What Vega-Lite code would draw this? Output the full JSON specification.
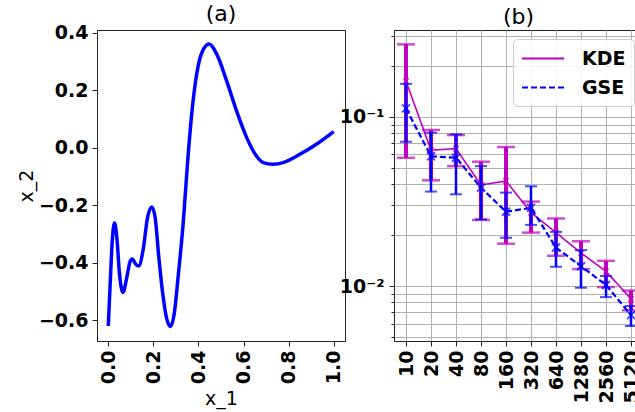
{
  "$schema": "https://vega.github.io/schema/vega-lite/v6.json",
  "padding": {"left": 16, "top": 2, "right": -8, "bottom": 0},
  "spacing": 49,
  "bounds": "flush",
  "config": {
    "font": "DejaVu Sans",
    "view": {"stroke": "#222222", "strokeWidth": 1},
    "axis": {
      "labelFont": "DejaVu Sans", "labelFontWeight": "bold", "labelFontSize": 19, "labelColor": "#000000",
      "titleFont": "DejaVu Sans", "titleFontWeight": "normal", "titleFontSize": 19, "titleColor": "#000000",
      "domainColor": "#222222", "tickColor": "#222222", "tickSize": 5, "labelPadding": 4
    },
    "title": {"font": "DejaVu Sans", "fontSize": 22, "fontWeight": "normal", "color": "#000000", "offset": -2}
  },
  "resolve": {
    "scale": {"color": "independent", "strokeDash": "independent"},
    "legend": {"color": "independent", "strokeDash": "independent"}
  },
  "datasets": {
    "curve": [
      {"x1": 0.000, "x2": -0.620}, {"x1": 0.009, "x2": -0.464}, {"x1": 0.018, "x2": -0.320},
      {"x1": 0.028, "x2": -0.262}, {"x1": 0.038, "x2": -0.313}, {"x1": 0.050, "x2": -0.440},
      {"x1": 0.065, "x2": -0.503}, {"x1": 0.082, "x2": -0.452}, {"x1": 0.095, "x2": -0.400},
      {"x1": 0.106, "x2": -0.387}, {"x1": 0.122, "x2": -0.405}, {"x1": 0.135, "x2": -0.411},
      {"x1": 0.156, "x2": -0.348}, {"x1": 0.174, "x2": -0.243}, {"x1": 0.193, "x2": -0.206},
      {"x1": 0.208, "x2": -0.243}, {"x1": 0.223, "x2": -0.371}, {"x1": 0.242, "x2": -0.510},
      {"x1": 0.260, "x2": -0.597}, {"x1": 0.276, "x2": -0.622}, {"x1": 0.292, "x2": -0.580},
      {"x1": 0.311, "x2": -0.440}, {"x1": 0.333, "x2": -0.255}, {"x1": 0.350, "x2": -0.070},
      {"x1": 0.370, "x2": 0.116}, {"x1": 0.392, "x2": 0.255}, {"x1": 0.415, "x2": 0.330},
      {"x1": 0.447, "x2": 0.360}, {"x1": 0.481, "x2": 0.325}, {"x1": 0.525, "x2": 0.232},
      {"x1": 0.569, "x2": 0.128}, {"x1": 0.614, "x2": 0.035}, {"x1": 0.658, "x2": -0.030},
      {"x1": 0.687, "x2": -0.052}, {"x1": 0.731, "x2": -0.058}, {"x1": 0.776, "x2": -0.052},
      {"x1": 0.850, "x2": -0.023}, {"x1": 0.923, "x2": 0.012}, {"x1": 1.000, "x2": 0.056}
    ],
    "err": [
      {"n": 10, "method": "KDE", "mean": 0.163, "lo": 0.0574, "hi": 0.269},
      {"n": 20, "method": "KDE", "mean": 0.0636, "lo": 0.0422, "hi": 0.0838},
      {"n": 40, "method": "KDE", "mean": 0.065, "lo": 0.0512, "hi": 0.0782},
      {"n": 80, "method": "KDE", "mean": 0.0396, "lo": 0.0246, "hi": 0.0544},
      {"n": 160, "method": "KDE", "mean": 0.0418, "lo": 0.0178, "hi": 0.0664},
      {"n": 320, "method": "KDE", "mean": 0.0272, "lo": 0.0207, "hi": 0.0316},
      {"n": 640, "method": "KDE", "mean": 0.0207, "lo": 0.0151, "hi": 0.0251},
      {"n": 1280, "method": "KDE", "mean": 0.0157, "lo": 0.0126, "hi": 0.0184},
      {"n": 2560, "method": "KDE", "mean": 0.0122, "lo": 0.00986, "hi": 0.0141},
      {"n": 5120, "method": "KDE", "mean": 0.0084, "lo": 0.00718, "hi": 0.0094},
      {"n": 10, "method": "GSE", "mean": 0.1125, "lo": 0.0714, "hi": 0.157},
      {"n": 20, "method": "GSE", "mean": 0.0585, "lo": 0.0362, "hi": 0.0807},
      {"n": 40, "method": "GSE", "mean": 0.0574, "lo": 0.0349, "hi": 0.0789},
      {"n": 80, "method": "GSE", "mean": 0.0382, "lo": 0.0248, "hi": 0.0512},
      {"n": 160, "method": "GSE", "mean": 0.0275, "lo": 0.0193, "hi": 0.0357},
      {"n": 320, "method": "GSE", "mean": 0.029, "lo": 0.023, "hi": 0.0389},
      {"n": 640, "method": "GSE", "mean": 0.0169, "lo": 0.013, "hi": 0.0209},
      {"n": 1280, "method": "GSE", "mean": 0.0131, "lo": 0.00977, "hi": 0.0163},
      {"n": 2560, "method": "GSE", "mean": 0.01014, "lo": 0.0086, "hi": 0.01146},
      {"n": 5120, "method": "GSE", "mean": 0.00673, "lo": 0.0058, "hi": 0.00762}
    ]
  },
  "hconcat": [
    {
      "width": 248,
      "height": 311,
      "title": "(a)",
      "data": {"name": "curve"},
      "mark": {"type": "line", "color": "#0000ff", "strokeWidth": 3.5, "interpolate": "monotone"},
      "encoding": {
        "x": {
          "field": "x1", "type": "quantitative",
          "scale": {"domain": [-0.05, 1.05], "nice": false, "zero": false},
          "axis": {"title": "x_1", "values": [0, 0.2, 0.4, 0.6, 0.8, 1.0], "format": ".1f", "labelAngle": -90, "grid": false, "titlePadding": 6}
        },
        "y": {
          "field": "x2", "type": "quantitative",
          "scale": {"domain": [-0.672, 0.409], "nice": false, "zero": false},
          "axis": {"title": "x_2", "values": [-0.6, -0.4, -0.2, 0, 0.2, 0.4], "format": ".1f", "grid": false, "titlePadding": 2}
        }
      }
    },
    {
      "width": 249,
      "height": 311,
      "title": "(b)",
      "data": {"name": "err"},
      "encoding": {
        "x": {
          "field": "n", "type": "ordinal",
          "scale": {"type": "point", "padding": 0.48},
          "axis": {"title": null, "labelAngle": -90, "grid": true, "gridColor": "#b0b0b0", "gridWidth": 1}
        }
      },
      "layer": [
        {
          "transform": [{"filter": "datum.method == 'KDE'"}],
          "mark": {"type": "rule", "color": "#bf00bf", "strokeWidth": 4},
          "encoding": {
            "y": {
              "field": "lo", "type": "quantitative",
              "scale": {"type": "log", "domain": [0.00473, 0.327], "nice": false},
              "axis": {
                "title": null,
                "values": [0.005, 0.006, 0.007, 0.008, 0.009, 0.01, 0.02, 0.03, 0.04, 0.05, 0.06, 0.07, 0.08, 0.09, 0.1, 0.2, 0.3],
                "labelExpr": "datum.value == 0.1 ? '10⁻¹' : (datum.value == 0.01 ? '10⁻²' : '')",
                "labelOverlap": false,
                "labelBound": false,
                "grid": true, "gridColor": "#b0b0b0", "gridWidth": 1,
                "tickSize": {"condition": {"test": "datum.value == 0.1 || datum.value == 0.01", "value": 5}, "value": 3},
                "labelPadding": 5
              }
            },
            "y2": {"field": "hi"}
          }
        },
        {
          "transform": [{"filter": "datum.method == 'KDE'"}],
          "mark": {"type": "tick", "orient": "horizontal", "color": "#bf00bf", "size": 18, "thickness": 2.5},
          "encoding": {"y": {"field": "lo", "type": "quantitative", "title": null}}
        },
        {
          "transform": [{"filter": "datum.method == 'KDE'"}],
          "mark": {"type": "tick", "orient": "horizontal", "color": "#bf00bf", "size": 18, "thickness": 2.5},
          "encoding": {"y": {"field": "hi", "type": "quantitative", "title": null}}
        },
        {
          "transform": [{"filter": "datum.method == 'KDE'"}],
          "mark": {"type": "line", "strokeWidth": 1.6},
          "encoding": {
            "y": {"field": "mean", "type": "quantitative", "title": null},
            "color": {
              "field": "method", "type": "nominal",
              "scale": {"domain": ["KDE", "GSE"], "range": ["#bf00bf", "#0000ff"]},
              "legend": {
                "title": null, "orient": "none", "legendX": 119, "legendY": 9,
                "symbolType": "M-1,0L3,0", "symbolSize": 441, "symbolStrokeWidth": 1.8,
                "labelFont": "DejaVu Sans", "labelFontWeight": "bold", "labelFontSize": 19, "labelColor": "#000000",
                "labelOffset": 38, "rowPadding": 7, "padding": 8,
                "fillColor": "rgba(255,255,255,0.85)", "strokeColor": "#cccccc", "cornerRadius": 4
              }
            },
            "strokeDash": {
              "field": "method", "type": "nominal",
              "scale": {"domain": ["KDE", "GSE"], "range": [[1, 0], [6, 3]]},
              "legend": {
                "title": null, "orient": "none", "legendX": 119, "legendY": 9,
                "symbolType": "M-1,0L3,0", "symbolSize": 441, "symbolStrokeWidth": 1.8,
                "labelFont": "DejaVu Sans", "labelFontWeight": "bold", "labelFontSize": 19, "labelColor": "#000000",
                "labelOffset": 38, "rowPadding": 7, "padding": 8,
                "fillColor": "rgba(255,255,255,0.85)", "strokeColor": "#cccccc", "cornerRadius": 4
              }
            }
          }
        },
        {
          "transform": [{"filter": "datum.method == 'KDE'"}],
          "mark": {"type": "point", "shape": "M-1,-1L1,1M1,-1L-1,1", "filled": false, "color": "#bf00bf", "strokeWidth": 1.5, "size": 30},
          "encoding": {"y": {"field": "mean", "type": "quantitative", "title": null}}
        },
        {
          "transform": [{"filter": "datum.method == 'GSE'"}],
          "mark": {"type": "rule", "color": "#0000ff", "strokeWidth": 2.5},
          "encoding": {
            "y": {"field": "lo", "type": "quantitative", "title": null},
            "y2": {"field": "hi"}
          }
        },
        {
          "transform": [{"filter": "datum.method == 'GSE'"}],
          "mark": {"type": "tick", "orient": "horizontal", "color": "#0000ff", "size": 12, "thickness": 2},
          "encoding": {"y": {"field": "lo", "type": "quantitative", "title": null}}
        },
        {
          "transform": [{"filter": "datum.method == 'GSE'"}],
          "mark": {"type": "tick", "orient": "horizontal", "color": "#0000ff", "size": 12, "thickness": 2},
          "encoding": {"y": {"field": "hi", "type": "quantitative", "title": null}}
        },
        {
          "transform": [{"filter": "datum.method == 'GSE'"}],
          "mark": {"type": "line", "strokeWidth": 2.2},
          "encoding": {
            "y": {"field": "mean", "type": "quantitative", "title": null},
            "color": {"field": "method", "type": "nominal"},
            "strokeDash": {"field": "method", "type": "nominal"}
          }
        },
        {
          "transform": [{"filter": "datum.method == 'GSE'"}],
          "mark": {"type": "point", "shape": "M-1,-1L1,1M1,-1L-1,1", "filled": false, "color": "#0000ff", "strokeWidth": 2, "size": 64},
          "encoding": {"y": {"field": "mean", "type": "quantitative", "title": null}}
        }
      ]
    }
  ]
}
